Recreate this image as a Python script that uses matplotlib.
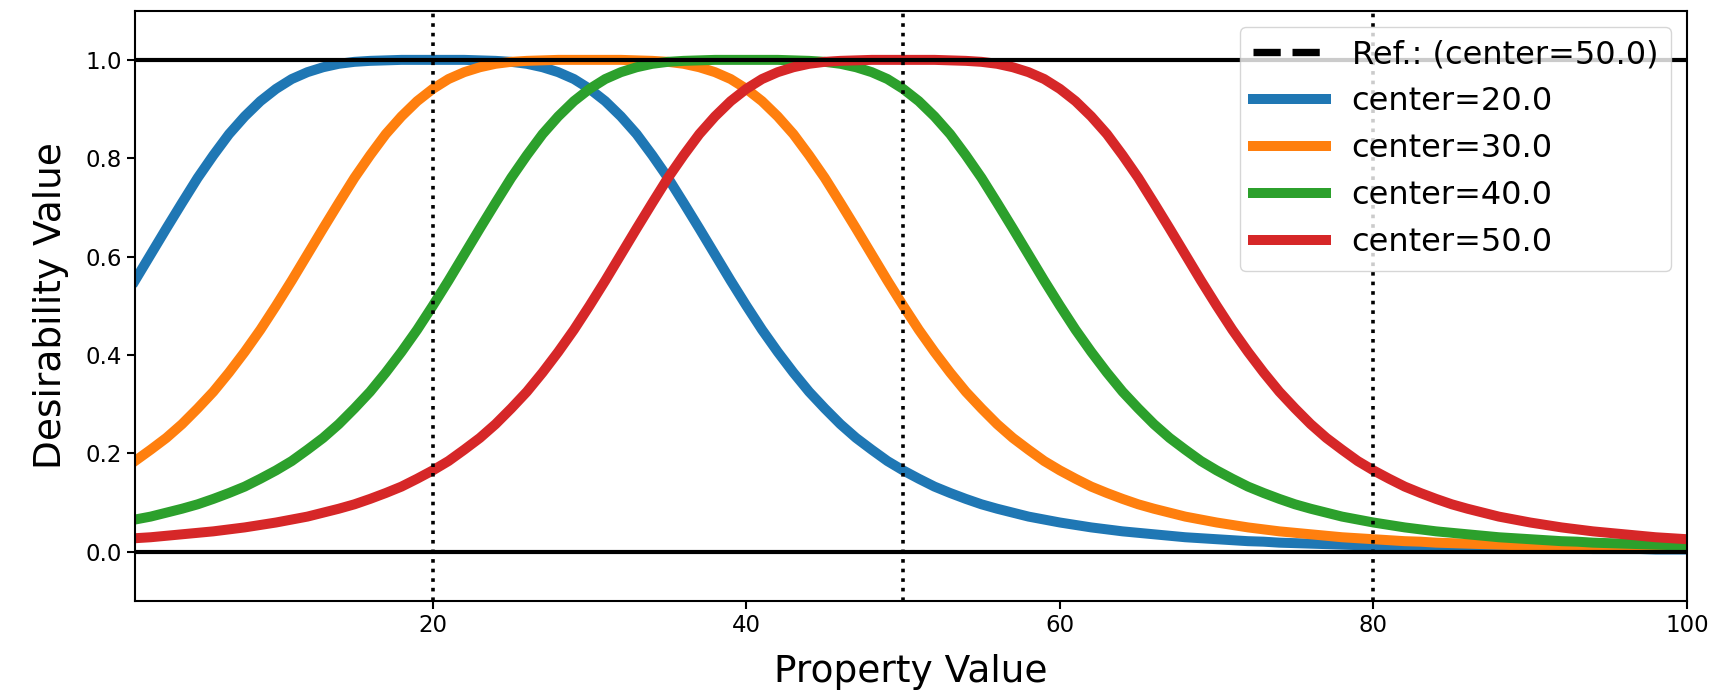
import matplotlib
matplotlib.use("Agg")
import matplotlib.pyplot as plt

# property values (x grid) and desirability
propValues = list(range(1, 101))

center20 = [0.551, 0.604, 0.657, 0.709, 0.760, 0.806, 0.849, 0.885, 0.916, 0.941,
            0.961, 0.975, 0.985, 0.992, 0.996, 0.998, 0.999, 1.000, 1.000, 1.000,
            1.000, 1.000, 0.999, 0.998, 0.996, 0.992, 0.985, 0.975, 0.961, 0.941,
            0.916, 0.885, 0.849, 0.806, 0.760, 0.709, 0.657, 0.604, 0.551, 0.500,
            0.451, 0.406, 0.364, 0.325, 0.291, 0.259, 0.231, 0.207, 0.184, 0.165,
            0.148, 0.132, 0.119, 0.107, 0.096, 0.087, 0.079, 0.071, 0.065, 0.059,
            0.054, 0.049, 0.045, 0.041, 0.038, 0.035, 0.032, 0.029, 0.027, 0.025,
            0.023, 0.021, 0.020, 0.018, 0.017, 0.016, 0.015, 0.014, 0.013, 0.012,
            0.011, 0.011, 0.010, 0.009, 0.009, 0.008, 0.008, 0.007, 0.007, 0.007,
            0.006, 0.006, 0.006, 0.005, 0.005, 0.005, 0.005, 0.004, 0.004, 0.004]

center30 = [0.184, 0.207, 0.231, 0.259, 0.291, 0.325, 0.364, 0.406, 0.451, 0.500,
            0.551, 0.604, 0.657, 0.709, 0.760, 0.806, 0.849, 0.885, 0.916, 0.941,
            0.961, 0.975, 0.985, 0.992, 0.996, 0.998, 0.999, 1.000, 1.000, 1.000,
            1.000, 1.000, 0.999, 0.998, 0.996, 0.992, 0.985, 0.975, 0.961, 0.941,
            0.916, 0.885, 0.849, 0.806, 0.760, 0.709, 0.657, 0.604, 0.551, 0.500,
            0.451, 0.406, 0.364, 0.325, 0.291, 0.259, 0.231, 0.207, 0.184, 0.165,
            0.148, 0.132, 0.119, 0.107, 0.096, 0.087, 0.079, 0.071, 0.065, 0.059,
            0.054, 0.049, 0.045, 0.041, 0.038, 0.035, 0.032, 0.029, 0.027, 0.025,
            0.023, 0.021, 0.020, 0.018, 0.017, 0.016, 0.015, 0.014, 0.013, 0.012,
            0.011, 0.011, 0.010, 0.009, 0.009, 0.008, 0.008, 0.007, 0.007, 0.007]

center40 = [0.065, 0.071, 0.079, 0.087, 0.096, 0.107, 0.119, 0.132, 0.148, 0.165,
            0.184, 0.207, 0.231, 0.259, 0.291, 0.325, 0.364, 0.406, 0.451, 0.500,
            0.551, 0.604, 0.657, 0.709, 0.760, 0.806, 0.849, 0.885, 0.916, 0.941,
            0.961, 0.975, 0.985, 0.992, 0.996, 0.998, 0.999, 1.000, 1.000, 1.000,
            1.000, 1.000, 0.999, 0.998, 0.996, 0.992, 0.985, 0.975, 0.961, 0.941,
            0.916, 0.885, 0.849, 0.806, 0.760, 0.709, 0.657, 0.604, 0.551, 0.500,
            0.451, 0.406, 0.364, 0.325, 0.291, 0.259, 0.231, 0.207, 0.184, 0.165,
            0.148, 0.132, 0.119, 0.107, 0.096, 0.087, 0.079, 0.071, 0.065, 0.059,
            0.054, 0.049, 0.045, 0.041, 0.038, 0.035, 0.032, 0.029, 0.027, 0.025,
            0.023, 0.021, 0.020, 0.018, 0.017, 0.016, 0.015, 0.014, 0.013, 0.012]

center50 = [0.027, 0.029, 0.032, 0.035, 0.038, 0.041, 0.045, 0.049, 0.054, 0.059,
            0.065, 0.071, 0.079, 0.087, 0.096, 0.107, 0.119, 0.132, 0.148, 0.165,
            0.184, 0.207, 0.231, 0.259, 0.291, 0.325, 0.364, 0.406, 0.451, 0.500,
            0.551, 0.604, 0.657, 0.709, 0.760, 0.806, 0.849, 0.885, 0.916, 0.941,
            0.961, 0.975, 0.985, 0.992, 0.996, 0.998, 0.999, 1.000, 1.000, 1.000,
            1.000, 1.000, 0.999, 0.998, 0.996, 0.992, 0.985, 0.975, 0.961, 0.941,
            0.916, 0.885, 0.849, 0.806, 0.760, 0.709, 0.657, 0.604, 0.551, 0.500,
            0.451, 0.406, 0.364, 0.325, 0.291, 0.259, 0.231, 0.207, 0.184, 0.165,
            0.148, 0.132, 0.119, 0.107, 0.096, 0.087, 0.079, 0.071, 0.065, 0.059,
            0.054, 0.049, 0.045, 0.041, 0.038, 0.035, 0.032, 0.029, 0.027, 0.025]

centers = [20.0, 30.0, 40.0, 50.0]
curves = [center20, center30, center40, center50]
refCenter = 50.0
refCurve = center50
markedValues = [20, 50, 80]

fig = plt.figure(figsize=(17.17, 7), dpi=100)
fig.subplots_adjust(left=0.0786, right=0.9825, top=0.9847, bottom=0.1419)
ax = fig.add_subplot(111)

# reference line sits below the coloured curves
ax.plot(propValues, refCurve, color="black", linestyle="--", linewidth=5.3,
        label="Ref.: (center=%.1f)" % refCenter, zorder=1)

for c, vals in zip(centers, curves):
    ax.plot(propValues, vals, linewidth=7.2, label="center=%.1f" % c, zorder=2)

ax.axhline(0.0, color="black", linewidth=3, zorder=3)
ax.axhline(1.0, color="black", linewidth=3, zorder=3)
for v in markedValues:
    ax.axvline(v, color="black", linestyle=":", linewidth=2.6, zorder=3)

ax.set_xlim(1, 100)
ax.set_ylim(-0.1, 1.1)
ax.set_xlabel("Property Value", fontsize=27, labelpad=12)
ax.set_ylabel("Desirability Value", fontsize=27, labelpad=12)
ax.tick_params(labelsize=16.5, length=6, width=1.5)
for sp in ax.spines.values():
    sp.set_linewidth(1.5)

ax.legend(loc="upper right", fontsize=23, handlelength=2.3)

fig.savefig("out.png", dpi=100)
